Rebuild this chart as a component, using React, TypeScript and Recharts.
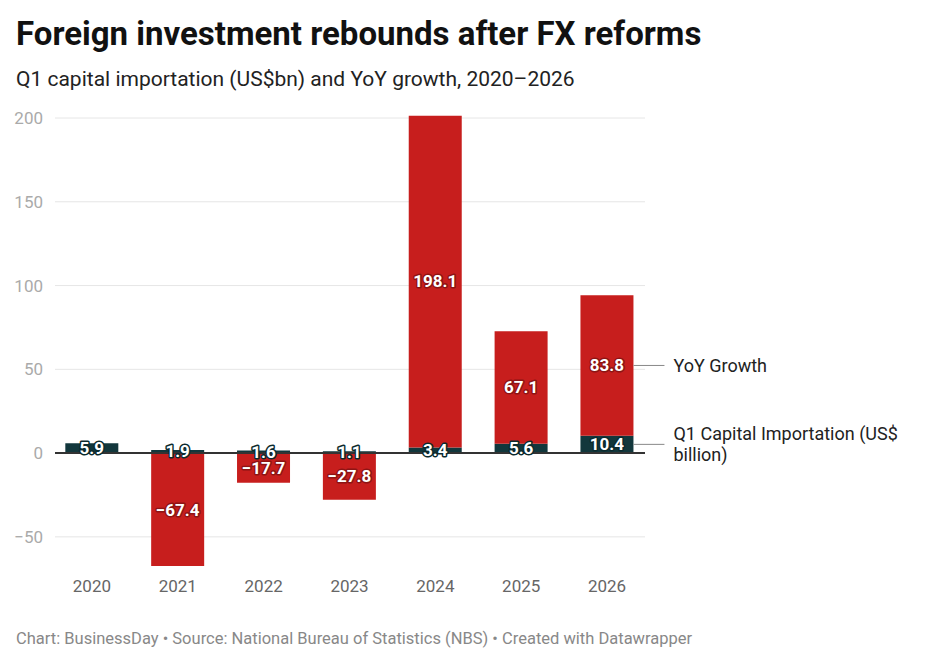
import React from "react";
import { BarChart, Bar, XAxis, YAxis, LabelList, ReferenceLine, CartesianGrid } from "recharts";

const years = ["2020", "2021", "2022", "2023", "2024", "2025", "2026"];
const capitalImportation = [5.9, 1.9, 1.6, 1.1, 3.4, 5.6, 10.4];
const yoyGrowth: (number | null)[] = [null, -67.4, -17.7, -27.8, 198.1, 67.1, 83.8];
const yTicks = [-50, 0, 50, 100, 150, 200];
const seriesNames = ["Q1 Capital Importation (US$", "billion)"];
const growthName = ["YoY Growth"];

const data = years.map((y, i) => ({
  year: y,
  cap: capitalImportation[i],
  yoy: yoyGrowth[i],
}));

const RED = "#c71e1d";
const TEAL = "#12373c";
const FONT = "Roboto, 'Noto Sans', sans-serif";
const lastYear = years[years.length - 1];

const fmt = (v: number) => (v < 0 ? "\u2212" + Math.abs(v).toFixed(1) : v.toFixed(1));

const makeLabel = (halo: string) => (props: any) => {
  const { x, y, width, height, value } = props;
  if (value === null || value === undefined) return null;
  const cx = Number(x) + Number(width) / 2;
  const cy = Number(y) + Number(height) / 2;
  return (
    <text
      x={cx}
      y={cy}
      textAnchor="middle"
      dominantBaseline="central"
      fontFamily={FONT}
      fontWeight={700}
      fontSize={17}
      fill="#fff"
      stroke={halo}
      strokeWidth={3}
      strokeLinejoin="round"
      style={{ paintOrder: "stroke" }}
    >
      {fmt(Number(value))}
    </text>
  );
};

const makeSide = (lines: string[]) => (props: any) => {
  const { x, y, width, height, value } = props;
  if (String(value) !== lastYear) return null;
  const right = Number(x) + Number(width);
  const cy = Number(y) + Number(height) / 2;
  return (
    <g>
      <line x1={right} x2={right + 31} y1={cy} y2={cy} stroke="#888" strokeWidth={1} />
      {lines.map((s, k) => (
        <text
          key={k}
          x={right + 40}
          y={cy + (k - (lines.length - 1) / 2) * 21}
          dominantBaseline="central"
          fontFamily={FONT}
          fontSize={18}
          fill="#222"
        >
          {s}
        </text>
      ))}
    </g>
  );
};

const gridLine = (props: any) => {
  const { x1, x2, y1, y2, key, y, height } = props;
  const yy = Number(y1);
  if (y !== undefined && height !== undefined) {
    if (Math.abs(yy - Number(y)) < 1.5 || Math.abs(yy - (Number(y) + Number(height))) < 1.5) return <g key={key} />;
  }
  return (
    <line key={key} x1={Number(x1) + 6} x2={Number(x2) - 5} y1={y1} y2={y2} stroke="#e6e6e6" strokeWidth={1} />
  );
};

const ZeroLine = (props: any) => {
  const { x1, x2, y1, y2 } = props;
  return <line x1={Number(x1) + 6} x2={Number(x2) - 5} y1={y1} y2={y2} stroke="#333" strokeWidth={2} />;
};

export default function App() {
  return (
    <div
      style={{
        position: "absolute",
        left: 0,
        top: 0,
        width: 930,
        height: 666,
        background: "#fff",
        fontFamily: FONT,
      }}
    >
      <div style={{ position: "absolute", left: 16, top: 14, fontSize: 33, fontWeight: 700, color: "#111", whiteSpace: "nowrap" }}>
        Foreign investment rebounds after FX reforms
      </div>
      <div style={{ position: "absolute", left: 16, top: 67, fontSize: 21, color: "#222", whiteSpace: "nowrap" }}>
        Q1 capital importation (US$bn) and YoY growth, 2020–2026
      </div>
      <div style={{ position: "absolute", left: 0, top: 0 }}>
        <BarChart
          width={930}
          height={666}
          data={data}
          stackOffset="sign"
          barCategoryGap="19%"
          margin={{ top: 115.5, right: 280, bottom: 70, left: 0 }}
        >
          <CartesianGrid vertical={false} horizontal={gridLine} />
          <XAxis
            dataKey="year"
            axisLine={false}
            tickLine={false}
            height={30}
            tick={{ fontSize: 17, fill: "#666", fontFamily: FONT }}
            tickMargin={8}
          />
          <YAxis
            width={49}
            domain={[-67.4, 201.5]}
            ticks={yTicks}
            axisLine={false}
            tickLine={false}
            allowDataOverflow
            tickFormatter={(v: number) => (v < 0 ? "\u2212" + Math.abs(v) : String(v))}
            tick={{ fontSize: 17, fill: "#aaa", fontFamily: FONT }}
            tickMargin={0}
          />
          <ReferenceLine y={0} shape={ZeroLine} />
          <Bar dataKey="cap" stackId="a" fill={TEAL} isAnimationActive={false}>
            <LabelList dataKey="year" content={makeSide(seriesNames)} />
            <LabelList dataKey="cap" content={makeLabel("#0b2a2e")} />
          </Bar>
          <Bar dataKey="yoy" stackId="a" fill={RED} isAnimationActive={false}>
            <LabelList dataKey="year" content={makeSide(growthName)} />
            <LabelList dataKey="yoy" content={makeLabel("#8e1414")} />
          </Bar>
        </BarChart>
      </div>
      <div style={{ position: "absolute", left: 16, top: 629, fontSize: 16.5, color: "#888", whiteSpace: "nowrap" }}>
        Chart: BusinessDay • Source: National Bureau of Statistics (NBS) • Created with Datawrapper
      </div>
    </div>
  );
}
